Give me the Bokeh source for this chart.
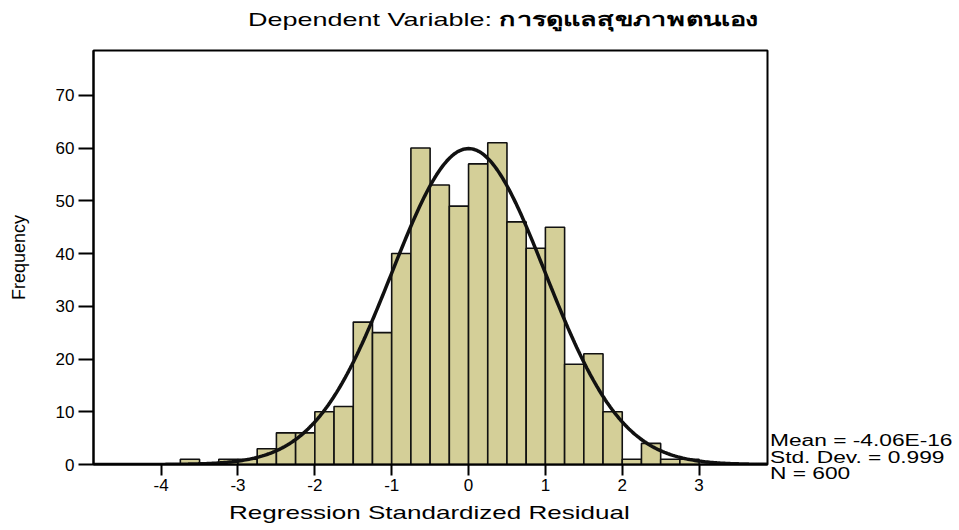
import numpy as np
from bokeh.plotting import figure
from bokeh.layouts import row, column
from bokeh.models import Range1d, FixedTicker, Div
from bokeh.embed import file_html
from bokeh.resources import INLINE

# ---- data ----
bin_lefts = [-3.75, -3.25, -3.0, -2.75, -2.5, -2.25, -2.0, -1.75, -1.5, -1.25,
             -1.0, -0.75, -0.5, -0.25, 0.0, 0.25, 0.5, 0.75, 1.0, 1.25,
             1.5, 1.75, 2.0, 2.25, 2.5, 2.75]
counts = [1, 1, 1, 3, 6, 6, 10, 11, 27, 25,
          40, 60, 53, 49, 57, 61, 46, 41, 45, 19,
          21, 10, 1, 4, 1, 1]
bin_width = 0.25
mean_val = -4.06e-16
std_val = 0.999
n_val = 600
x_ticks = [-4, -3, -2, -1, 0, 1, 2, 3]
y_ticks = [0, 10, 20, 30, 40, 50, 60, 70]
title_en = "Dependent Variable:"
title_th = "การดูแลสุขภาพตนเอง"
x_label = "Regression Standardized Residual"
y_label = "Frequency"
stats_lines = ["Mean = -4.06E-16", "Std. Dev. = 0.999", "N = 600"]

FONT = "Liberation Sans"
CSS_FONT = "font-family:\"Liberation Sans\", Arial, sans-serif;"
H_TITLE = 40
H = 464
H_XLAB = 18
W_MAIN = 769
W_SIDE = 182
W_ALL = W_MAIN + W_SIDE

# ---- title (HTML text, Thai part bold as in the reference) ----
title_html = (
    "<div style='margin-top:10px; padding-left:248px; white-space:nowrap; color:black;"
    + CSS_FONT + " font-size:19px; line-height:20px;'>"
    "<span style='display:inline-block; transform:scaleX(1.42); transform-origin:left center;'>"
    + title_en + " <b>" + title_th + "</b></span></div>"
)
t = Div(text=title_html, width=W_ALL, height=H_TITLE, margin=0)

# ---- histogram ----
p = figure(width=W_MAIN, height=H, output_backend="svg", toolbar_location=None,
           x_range=Range1d(-4.88, 3.89), y_range=Range1d(0, 78.5),
           min_border_left=93, min_border_right=2, min_border_top=10,
           min_border_bottom=40)
p.background_fill_color = "white"
p.border_fill_color = "white"
p.outline_line_color = "black"
p.outline_line_width = 2
p.xgrid.visible = False
p.ygrid.visible = False

lefts = np.array(bin_lefts)
p.quad(left=lefts, right=lefts + bin_width, bottom=0, top=counts,
       fill_color="#d4cf98", line_color="#111111", line_width=1.6)

xs = np.linspace(-4.88, 3.89, 400)
ys = n_val * bin_width * np.exp(-0.5 * ((xs - mean_val) / std_val) ** 2) / (std_val * np.sqrt(2 * np.pi))
p.line(xs, ys, line_color="#111111", line_width=3.5)

for ax in (p.xaxis[0], p.yaxis[0]):
    ax.axis_line_color = "black"
    ax.axis_line_width = 2
    ax.major_tick_line_color = "black"
    ax.major_tick_line_width = 2
    ax.major_tick_in = 0
    ax.minor_tick_line_color = None
    ax.major_label_text_font = FONT
    ax.major_label_text_font_size = "17px"
    ax.major_label_text_color = "black"
    ax.axis_label_text_font = FONT
    ax.axis_label_text_font_style = "normal"
    ax.axis_label_text_color = "black"

p.xaxis.ticker = FixedTicker(ticks=x_ticks)
p.yaxis.ticker = FixedTicker(ticks=y_ticks)
p.xaxis.major_label_overrides = {t_: str(t_) for t_ in x_ticks}
p.yaxis.major_label_overrides = {t_: str(t_) for t_ in y_ticks}
p.xaxis.major_tick_out = 11
p.yaxis.major_tick_out = 15
p.xaxis.major_label_standoff = 3
p.yaxis.major_label_standoff = 4
p.yaxis.axis_label = y_label
p.yaxis.axis_label_text_font_size = "18px"
p.yaxis.axis_label_standoff = 24

# ---- statistics text to the right of the frame ----
stats_html = (
    "<div style='margin-top:393px; padding-left:1px; white-space:nowrap; color:black;"
    + CSS_FONT + " font-size:16px; line-height:16.6px;'>"
    "<div style='display:inline-block; transform:scaleX(1.42); transform-origin:left top;'>"
    + "<br>".join(stats_lines) + "</div></div>"
)
s = Div(text=stats_html, width=W_SIDE, height=H, margin=0)

# ---- x axis title (HTML text, widened like the reference) ----
xlab_html = (
    "<div style='padding-left:229px; white-space:nowrap; color:black;"
    + CSS_FONT + " font-size:19px; line-height:18px;'>"
    "<span style='display:inline-block; transform:scaleX(1.37); transform-origin:left center;'>"
    + x_label + "</span></div>"
)
xl = Div(text=xlab_html, width=W_ALL, height=H_XLAB, margin=0)

layout = column(t, row(p, s, spacing=0), xl, spacing=0)
open("out.html", "w").write(file_html(layout, INLINE))
